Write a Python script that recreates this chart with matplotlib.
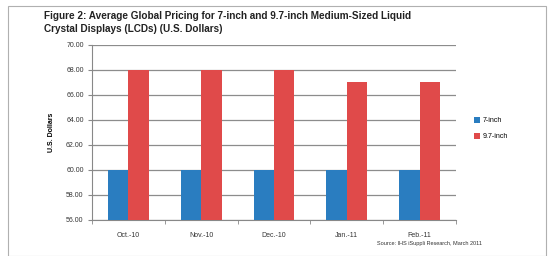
import matplotlib.pyplot as plt
import numpy as np
from matplotlib.patches import Rectangle

months = ["Oct.-10", "Nov.-10", "Dec.-10", "Jan.-11", "Feb.-11"]
price_7 = [60, 60, 60, 60, 60]
price_97 = [68, 68, 68, 67, 67]
yticks = [56, 58, 60, 62, 64, 66, 68, 70]

plt.rcParams["font.family"] = ["Liberation Sans", "DejaVu Sans"]

W, H = 548, 256
fig = plt.figure(figsize=(W / 100, H / 100), dpi=100)

# outer frame
fig.patches.append(Rectangle((8 / W, 0), (546 - 8) / W, 1 - 6 / H, transform=fig.transFigure,
                             fill=False, edgecolor="#b0b0b0", linewidth=0.8))

ax = fig.add_axes([92 / W, 1 - 219.5 / H, (456 - 92) / W, 175 / H])
x = np.arange(len(months))
w = 0.28
ax.bar(x - w / 2, price_7, w, color="#2a7dc0", label="7-inch", zorder=3)
ax.bar(x + w / 2, price_97, w, color="#e04a4a", label="9.7-inch", zorder=3)
ax.set_xlim(-0.5, len(months) - 0.5)
ax.set_ylim(56, 70)
ax.set_yticks(yticks)
ax.set_yticklabels([f"{v:.2f}" for v in yticks], fontsize=5, color="#333333")
ax.set_xticks(x)
ax.set_xticklabels(months, fontsize=5, color="#333333")
ax.set_xticks(np.arange(len(months) + 1) - 0.5, minor=True)
ax.tick_params(axis="x", which="major", length=0, pad=9)
ax.tick_params(axis="x", which="minor", length=3, color="#888888", direction="out")
ax.tick_params(axis="y", length=3, color="#888888", pad=3)
ax.grid(axis="y", color="#8c8c8c", linewidth=0.9, zorder=0)
for s in ["top", "right"]:
    ax.spines[s].set_visible(False)
for s in ["left", "bottom"]:
    ax.spines[s].set_color("#888888")
ax.set_ylabel("U.S. Dollars", fontsize=5, fontweight="bold", labelpad=8)

ax.legend(loc="upper left", bbox_to_anchor=(468 / W, 1 - 111 / H), bbox_transform=fig.transFigure,
          frameon=False, fontsize=5, handlelength=0.8, handleheight=0.8, labelspacing=1.3,
          handletextpad=0.4)

fig.text(44 / W, 1 - 22.5 / H,
         "Figure 2: Average Global Pricing for 7-inch and 9.7-inch Medium-Sized Liquid\n"
         "Crystal Displays (LCDs) (U.S. Dollars)",
         fontsize=7.2, fontweight="bold", va="center", ha="left", color="#222222",
         linespacing=1.35)
fig.text(482 / W, 1 - 244 / H, "Source: IHS iSuppli Research, March 2011",
         fontsize=4, ha="right", va="center", color="#333333")

fig.savefig("out.png", dpi=100, facecolor="white")
